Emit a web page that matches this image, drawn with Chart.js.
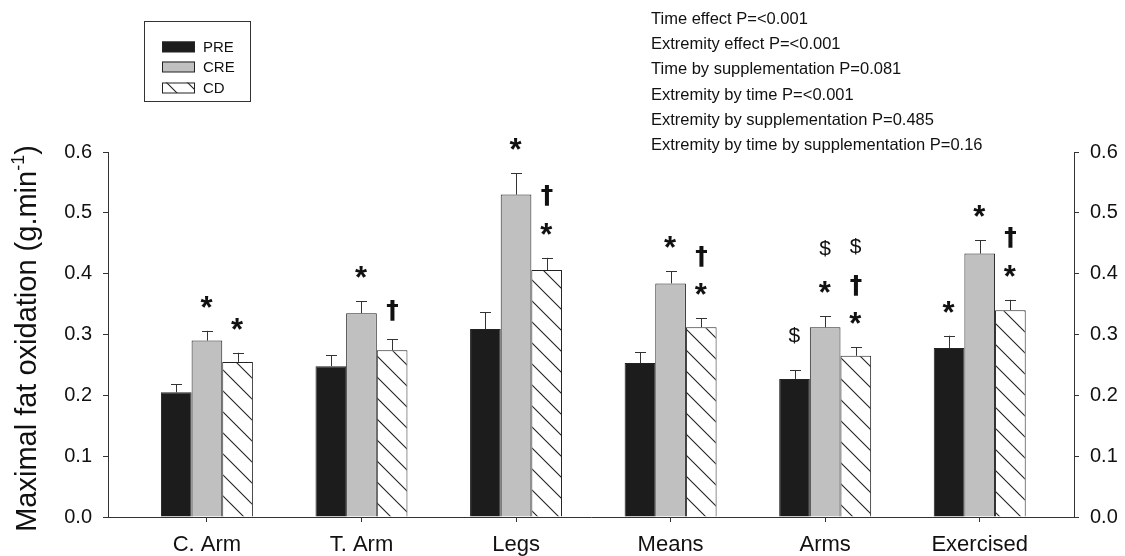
<!DOCTYPE html>
<html>
<head>
<meta charset="utf-8">
<script src="https://cdn.jsdelivr.net/npm/chart.js@4.4.1/dist/chart.umd.min.js"></script>
<style>
  html, body { margin: 0; padding: 0; background: #fff; }
</style>
</head>
<body>
<canvas id="chart" width="1125" height="556"></canvas>
<script>
const categories = ['C. Arm', 'T. Arm', 'Legs', 'Means', 'Arms', 'Exercised'];
const seriesNames = ['PRE', 'CRE', 'CD'];

const preValues = [0.205, 0.248, 0.309, 0.253, 0.227, 0.278];
const preErrors = [0.013, 0.018, 0.028, 0.018, 0.014, 0.020];
const creValues = [0.290, 0.335, 0.530, 0.384, 0.312, 0.433];
const creErrors = [0.016, 0.020, 0.035, 0.020, 0.018, 0.022];
const cdValues = [0.255, 0.274, 0.406, 0.312, 0.265, 0.340];
const cdErrors = [0.015, 0.018, 0.020, 0.015, 0.014, 0.017];

const yTicks = [0, 0.1, 0.2, 0.3, 0.4, 0.5, 0.6];

// significance marks above each bar, listed bottom to top
const preMarks = [[], [], [], [], ['$'], ['*']];
const creMarks = [['*'], ['*'], ['*'], ['*'], ['*', '$'], ['*']];
const cdMarks = [['*'], ['\u2020'], ['*', '\u2020'], ['*', '\u2020'], ['*', '\u2020', '$'], ['*', '\u2020']];

const statLines = [
  'Time effect P=<0.001',
  'Extremity effect P=<0.001',
  'Time by supplementation P=0.081',
  'Extremity by time P=<0.001',
  'Extremity by supplementation P=0.485',
  'Extremity by time by supplementation P=0.16',
];

const FONT = '"Liberation Sans", Arial, Helvetica, sans-serif';
const INK = '#222';

function makeHatch() {
  const s = 21;
  const c = document.createElement('canvas');
  c.width = s;
  c.height = s;
  const g = c.getContext('2d');
  g.fillStyle = '#fff';
  g.fillRect(0, 0, s, s);
  g.strokeStyle = INK;
  g.lineWidth = 1.1;
  g.beginPath();
  g.moveTo(-2, -2);
  g.lineTo(s + 2, s + 2);
  g.moveTo(-2, s - 2);
  g.lineTo(2, s + 2);
  g.moveTo(s - 2, -2);
  g.lineTo(s + 2, 2);
  g.stroke();
  return g.createPattern(c, 'repeat');
}

const hatch = makeHatch();
const fills = ['#1c1c1c', '#c0c0c0', hatch];
const errors = [preErrors, creErrors, cdErrors];
const marks = [preMarks, creMarks, cdMarks];

const toPoints = (values) => values.map((v, i) => ({ x: i, y: v }));

const markFonts = {
  '*': 'bold 31px ' + FONT,
  '\u2020': 'bold 25px "DejaVu Sans", ' + FONT,
  '$': '21px ' + FONT,
};

function drawGlyph(ctx, text, x, y) {
  ctx.font = markFonts[text];
  const m = ctx.measureText(text);
  const w = m.actualBoundingBoxRight + m.actualBoundingBoxLeft;
  const h = m.actualBoundingBoxAscent + m.actualBoundingBoxDescent;
  ctx.textAlign = 'left';
  ctx.textBaseline = 'alphabetic';
  ctx.fillText(text, x - w / 2 + m.actualBoundingBoxLeft, y + h / 2 - m.actualBoundingBoxDescent);
}

const extrasPlugin = {
  id: 'extras',
  afterDatasetsDraw(chart) {
    const ctx = chart.ctx;
    const yScale = chart.scales.y;
    ctx.save();
    ctx.strokeStyle = '#333';
    ctx.fillStyle = '#111';
    ctx.lineWidth = 1;
    chart.data.datasets.forEach((ds, d) => {
      const meta = chart.getDatasetMeta(d);
      meta.data.forEach((bar, i) => {
        const top = yScale.getPixelForValue(ds.data[i].y + errors[d][i]);
        const x = Math.round(bar.x) + 0.5;
        ctx.beginPath();
        ctx.moveTo(x, bar.y);
        ctx.lineTo(x, top);
        ctx.moveTo(x - 5.5, Math.round(top) + 0.5);
        ctx.lineTo(x + 5.5, Math.round(top) + 0.5);
        ctx.stroke();

        let y = top;
        marks[d][i].forEach((sym, k) => {
          y -= (k === 0 ? 29 : 33) + (sym === '$' ? 6 : 0);
          drawGlyph(ctx, sym, bar.x, y);
        });
      });
    });
    ctx.restore();
  },
  afterDraw(chart) {
    const ctx = chart.ctx;
    const area = chart.chartArea;
    ctx.save();

    // y axis title with superscript
    ctx.translate(36, (area.top + area.bottom) / 2 + 4);
    ctx.rotate(-Math.PI / 2);
    const main = 'Maximal fat oxidation (g.min';
    const sup = '-1';
    const tail = ')';
    const bigFont = '29px ' + FONT;
    const smallFont = '18px ' + FONT;
    ctx.font = bigFont;
    const wMain = ctx.measureText(main).width;
    const wTail = ctx.measureText(tail).width;
    ctx.font = smallFont;
    const wSup = ctx.measureText(sup).width;
    let x = -(wMain + wSup + wTail) / 2;
    ctx.fillStyle = '#111';
    ctx.textBaseline = 'alphabetic';
    ctx.textAlign = 'left';
    ctx.font = bigFont;
    ctx.fillText(main, x, 0);
    x += wMain;
    ctx.font = smallFont;
    ctx.fillText(sup, x, -12);
    x += wSup;
    ctx.font = bigFont;
    ctx.fillText(tail, x, 0);
    ctx.setTransform(1, 0, 0, 1, 0, 0);

    // statistics text
    ctx.font = '16.5px ' + FONT;
    ctx.textBaseline = 'middle';
    statLines.forEach((line, i) => {
      ctx.fillText(line, 651, 19.5 + 25.2 * i);
    });

    // legend box
    ctx.strokeStyle = '#333';
    ctx.lineWidth = 1;
    ctx.strokeRect(144.5, 21.5, 106, 80);
    ctx.font = '15px ' + FONT;
    seriesNames.forEach((name, i) => {
      const sy = [41.5, 61.5, 82.5][i];
      ctx.fillStyle = fills[i];
      ctx.fillRect(162, sy, 33, 10.5);
      ctx.strokeStyle = INK;
      ctx.strokeRect(162.5, sy + 0.5, 32, 10);
      ctx.fillStyle = '#111';
      ctx.fillText(name, 203, sy + 6);
    });
    ctx.restore();
  },
};

const yAxis = (position, width) => ({
  type: 'linear',
  position,
  min: 0,
  max: 0.6,
  afterBuildTicks: (axis) => {
    axis.ticks = yTicks.map((v) => ({ value: v }));
  },
  afterFit: (axis) => {
    axis.width = width;
  },
  grid: { display: true, drawOnChartArea: false, drawTicks: true, tickLength: 5, color: '#333' },
  border: { display: true, color: '#333', width: 1 },
  ticks: {
    color: '#111',
    padding: 11,
    font: { size: 20, family: FONT },
    callback: (v) => v.toFixed(1),
  },
});

new Chart(document.getElementById('chart'), {
  type: 'bar',
  data: {
    datasets: seriesNames.map((name, d) => ({
      label: name,
      data: toPoints([preValues, creValues, cdValues][d]),
      backgroundColor: fills[d],
      borderColor: INK,
      borderWidth: 1,
      borderSkipped: 'start',
      categoryPercentage: 0.595,
      barPercentage: 1,
    })),
  },
  options: {
    responsive: false,
    devicePixelRatio: 1,
    animation: false,
    layout: { padding: { top: 152, left: 0, right: 0, bottom: 0 } },
    plugins: {
      legend: { display: false },
      tooltip: { enabled: false },
    },
    scales: {
      x: {
        type: 'linear',
        min: -0.64,
        max: 5.61,
        offset: false,
        z: 1,
        afterBuildTicks: (axis) => {
          axis.ticks = categories.map((_, i) => ({ value: i }));
        },
        afterFit: (axis) => {
          axis.height = 39;
        },
        grid: { display: true, offset: false, drawOnChartArea: false, drawTicks: true, tickLength: 5, color: '#333' },
        border: { display: true, color: '#333', width: 1 },
        ticks: {
          color: '#111',
          padding: 10,
          maxRotation: 0,
          autoSkip: false,
          font: { size: 22, family: FONT },
          callback: (v) => categories[v] ?? '',
        },
      },
      y: yAxis('left', 108),
      y1: yAxis('right', 51),
    },
  },
  plugins: [extrasPlugin],
});
</script>
</body>
</html>
